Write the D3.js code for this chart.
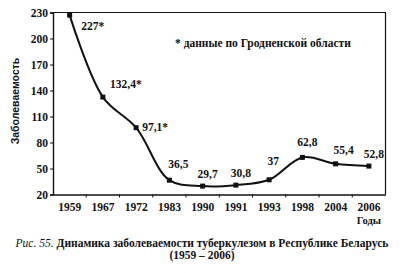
<!DOCTYPE html>
<html><head><meta charset="utf-8">
<script src="https://cdn.jsdelivr.net/npm/d3@7/dist/d3.min.js"></script>
<style>body{margin:0;background:#fff}svg{display:block}
.sf{font-family:"Liberation Serif","Times New Roman","DejaVu Serif",serif}
.ss{font-family:"Liberation Sans",Arial,sans-serif}</style>
</head><body>
<svg id="c" width="402" height="273"></svg>
<script>
const years = ["1959","1967","1972","1983","1990","1991","1993","1998","2004","2006"];
const values = [227, 132.4, 97.1, 36.5, 29.7, 30.8, 37, 62.8, 55.4, 52.8];
const labels = ["227*","132,4*","97,1*","36,5","29,7","30,8","37","62,8","55,4","52,8"];
const yTicks = [20, 50, 80, 110, 140, 170, 200, 230];

const svg = d3.select("#c");
const L = 53, R = 385.5, T = 12.5, B = 194.5;
const x = d3.scaleBand().domain(years).range([L, R]);
const y = d3.scaleLinear().domain([20, 230]).range([B, T]);
const cx = d => x(d) + x.bandwidth() / 2;

svg.append("path").attr("d", `M${L},${T}H${R}V${B}`).attr("fill", "none").attr("stroke", "#111").attr("stroke-width", 1.2);

const ya = svg.append("g").attr("transform", `translate(${L},0)`)
  .call(d3.axisLeft(y).tickValues(yTicks).tickSize(3).tickPadding(2));
const xa = svg.append("g").attr("transform", `translate(0,${B})`)
  .call(d3.axisBottom(x).tickSize(0).tickPadding(8));
[ya, xa].forEach(g => {
  g.attr("font-family", null).attr("font-size", null);
  g.select(".domain").attr("stroke", "#111").attr("stroke-width", 1.4);
  g.selectAll("text").attr("class", "sf").attr("font-weight", "bold").attr("font-size", 11.5).attr("fill", "#111");
  g.selectAll("line").attr("stroke", "#111");
});
svg.append("g").selectAll("line").data(years.slice(1)).join("line")
  .attr("x1", d => x(d)).attr("x2", d => x(d)).attr("y1", B).attr("y2", B + 3)
  .attr("stroke", "#111");

const pts = years.map((d, i) => [cx(d), y(values[i])]);
svg.append("path").attr("d", d3.line().curve(d3.curveCatmullRom.alpha(0.5))(pts))
  .attr("fill", "none").attr("stroke", "#111").attr("stroke-width", 2);
svg.append("g").selectAll("rect").data(pts).join("rect")
  .attr("x", d => d[0] - 2.5).attr("y", d => d[1] - 2.5).attr("width", 5).attr("height", 5).attr("fill", "#111");

const off = [[23, 12], [23, -12], [19, 1], [9, -15], [5, -11], [5, -11], [4, -17], [5, -14], [8, -12], [5, -11]];
svg.append("g").selectAll("text").data(years).join("text")
  .attr("class", "sf")
  .attr("x", (d, i) => cx(d) + off[i][0]).attr("y", (d, i) => y(values[i]) + off[i][1])
  .attr("text-anchor", "middle").attr("dominant-baseline", "middle")
  .attr("font-weight", "bold").attr("font-size", 11.5).attr("fill", "#111")
  .text((d, i) => labels[i]);

svg.append("text").attr("class", "sf").attr("x", 175).attr("y", 44).attr("dominant-baseline", "middle")
  .attr("font-weight", "bold").attr("font-size", 11.5).attr("fill", "#111")
  .text("* данные по Гродненской области");

svg.append("text").attr("class", "ss").attr("transform", `translate(16,101) rotate(-90)`).attr("text-anchor", "middle").attr("dominant-baseline", "middle")
  .attr("font-weight", "bold").attr("font-size", 10.5).attr("fill", "#111")
  .text("Заболеваемость");
svg.append("text").attr("class", "sf").attr("x", 381).attr("y", 222).attr("text-anchor", "end").attr("dominant-baseline", "middle")
  .attr("font-weight", "bold").attr("font-size", 10.5).attr("fill", "#111")
  .text("Годы");

const cap = svg.append("text").attr("class", "sf").attr("x", 202).attr("y", 244).attr("text-anchor", "middle").attr("dominant-baseline", "middle")
  .attr("font-size", 11.5).attr("fill", "#111");
cap.append("tspan").attr("font-style", "italic").text("Рис. 55. ");
cap.append("tspan").attr("font-weight", "bold").text("Динамика заболеваемости туберкулезом в Республике Беларусь");
svg.append("text").attr("class", "sf").attr("x", 202).attr("y", 256).attr("text-anchor", "middle").attr("dominant-baseline", "middle")
  .attr("font-weight", "bold").attr("font-size", 11.5).attr("fill", "#111")
  .text("(1959 – 2006)");
</script>
</body></html>
